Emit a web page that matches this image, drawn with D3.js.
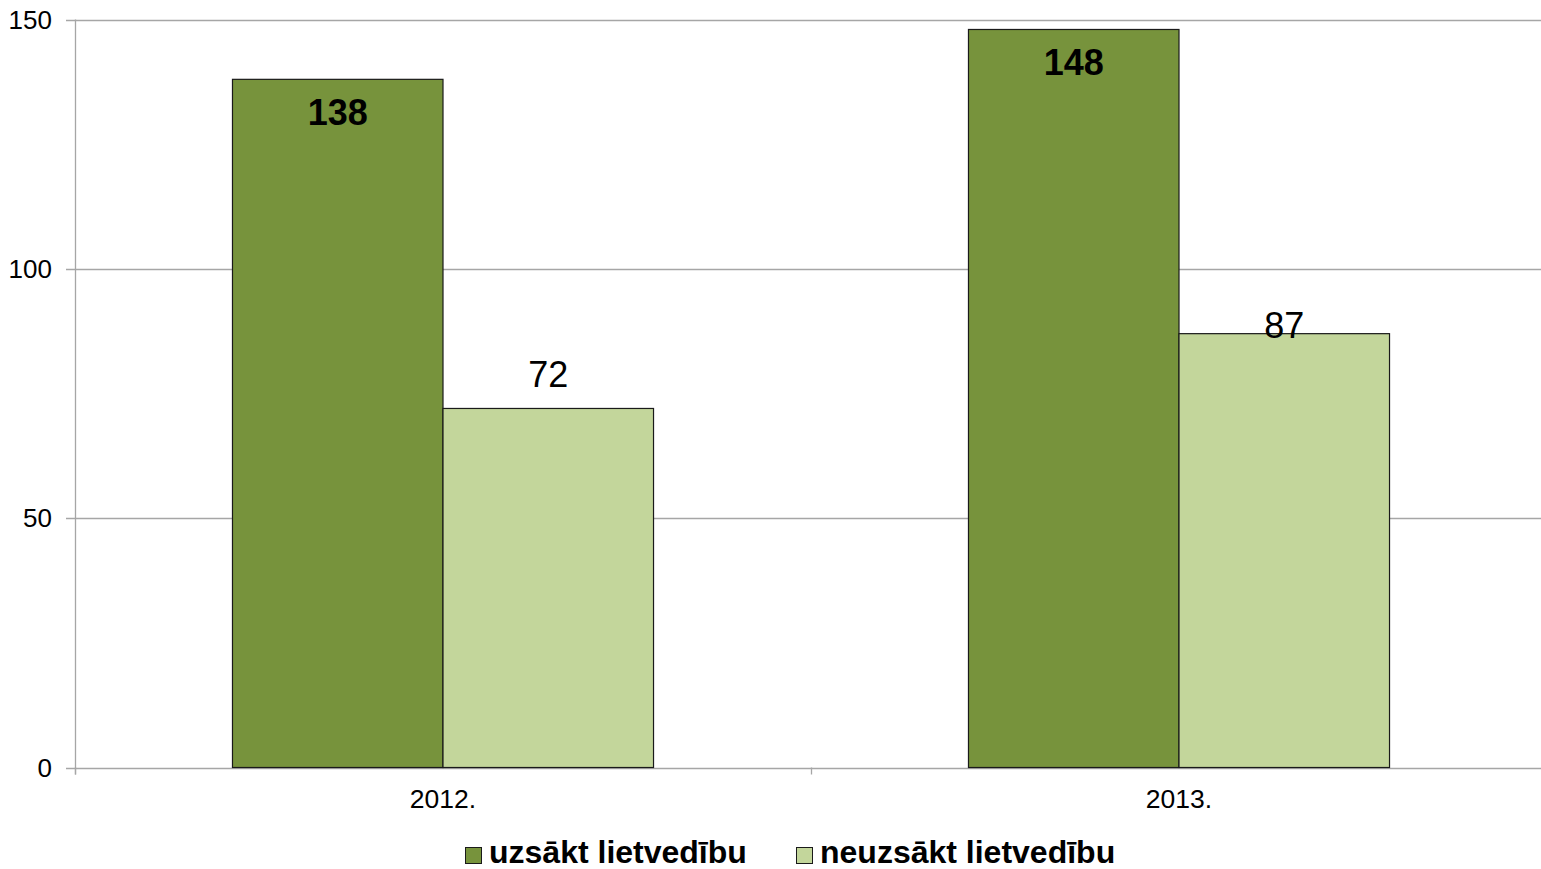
<!DOCTYPE html>
<html><head><meta charset="utf-8">
<script src="https://cdn.jsdelivr.net/npm/d3@7"></script>
<style>body{margin:0;background:#fff}svg{display:block}text{font-family:"Liberation Sans",Arial,sans-serif}</style>
</head><body><svg id="c" width="1541" height="869"></svg>
<script>
const categories = ["2012.", "2013."];
const seriesNames = ["uzsākt lietvedību", "neuzsākt lietvedību"];
const uzsakt = [138, 148];
const neuzsakt = [72, 87];
const yTicks = [0, 50, 100, 150];
const colors = ["#77933C", "#C3D69B"];

const svg = d3.select("#c");
const L = 75, R = 1547, Rvis = 1541, T = 19.5, B = 767.5;
const x = d3.scaleBand().domain(categories).range([L, R]).paddingInner(0).paddingOuter(0);
const y = d3.scaleLinear().domain([0, 150]).range([B, T]);
const sub = d3.scaleBand().domain([0, 1]).range([0, x.bandwidth()]).paddingOuter(0.748).paddingInner(0);

// gridlines
svg.append("g").selectAll("line").data(yTicks).join("line")
  .attr("x1", L - 9).attr("x2", Rvis).attr("y1", d => Math.round(y(d)) + 0.5).attr("y2", d => Math.round(y(d)) + 0.5)
  .attr("stroke", "#a6a6a6").attr("stroke-width", 1.3);
// y axis line
svg.append("line").attr("x1", L + 0.5).attr("x2", L + 0.5).attr("y1", y(150)).attr("y2", B + 7)
  .attr("stroke", "#a6a6a6").attr("stroke-width", 1.3);
// y tick labels
svg.append("g").selectAll("text").data(yTicks).join("text")
  .attr("x", 52).attr("y", d => y(d) + 9.3).attr("text-anchor", "end")
  .attr("font-size", 26).attr("fill", "#000").text(d => d);
// x ticks
const xb = [L, L + x.bandwidth()];
svg.append("g").selectAll("line").data(xb).join("line")
  .attr("x1", d => Math.round(d) + 0.5).attr("x2", d => Math.round(d) + 0.5).attr("y1", B).attr("y2", B + 7)
  .attr("stroke", "#a6a6a6").attr("stroke-width", 1.3);
svg.append("g").selectAll("text").data(categories).join("text")
  .attr("x", d => x(d) + x.bandwidth() / 2).attr("y", 808).attr("text-anchor", "middle")
  .attr("font-size", 26.5).attr("fill", "#000").text(d => d);

const series = [uzsakt, neuzsakt];
series.forEach((vals, si) => {
  const g = svg.append("g");
  g.selectAll("rect").data(vals).join("rect")
    .attr("x", (d, i) => x(categories[i]) + sub(si))
    .attr("y", d => y(d))
    .attr("width", sub.bandwidth())
    .attr("height", d => B - y(d))
    .attr("fill", colors[si]).attr("stroke", "#1a1a1a").attr("stroke-width", 1.2);
  g.selectAll("text").data(vals).join("text")
    .attr("x", (d, i) => x(categories[i]) + sub(si) + sub.bandwidth() / 2)
    .attr("y", (d, i) => si === 0 ? y(d) + 46 : (i === 0 ? y(d) - 21.4 : y(d) + 4))
    .attr("text-anchor", "middle").attr("font-size", 36)
    .attr("font-weight", si === 0 ? "bold" : "normal").attr("fill", "#000")
    .text(d => d);
});

// legend
const leg = svg.append("g");
const lx = [465, 796];
seriesNames.forEach((n, i) => {
  leg.append("rect").attr("x", lx[i] + 0.5).attr("y", 847.5).attr("width", 16).attr("height", 16)
    .attr("fill", colors[i]).attr("stroke", "#1a1a1a").attr("stroke-width", 1);
  leg.append("text").attr("x", lx[i] + 24).attr("y", 862.5)
    .attr("font-size", 32).attr("font-weight", "bold").attr("fill", "#000").text(n);
});
</script></body></html>
